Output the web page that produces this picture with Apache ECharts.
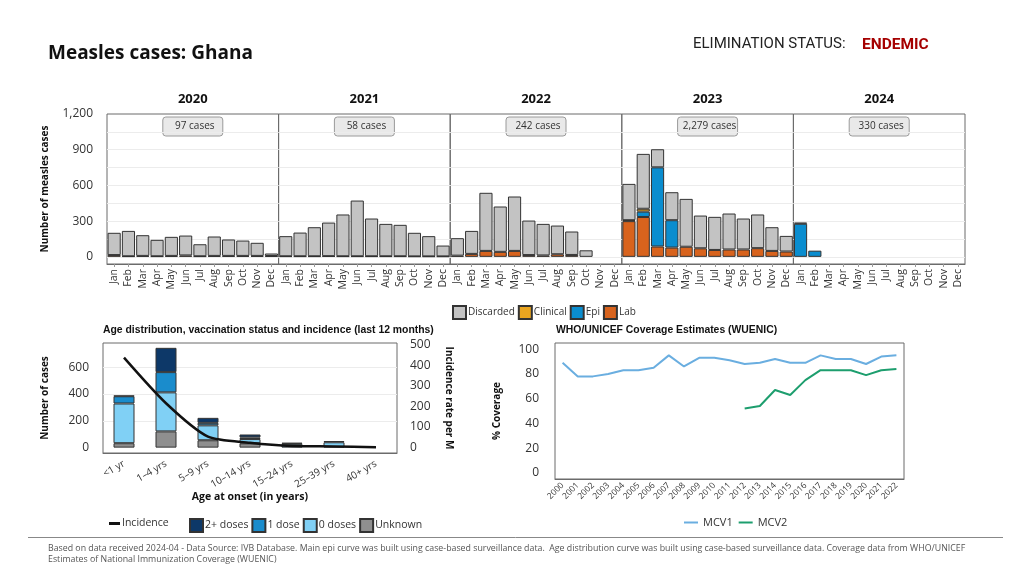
<!DOCTYPE html>
<html><head><meta charset="utf-8">
<script src="https://cdn.jsdelivr.net/npm/echarts@6/dist/echarts.min.js"></script>
<style>html,body{margin:0;padding:0;background:#fff}#c{width:1024px;height:576px}</style>
</head><body><div id="c"></div>
<script>
// ---------- DATA ----------
const months = ['Jan','Feb','Mar','Apr','May','Jun','Jul','Aug','Sep','Oct','Nov','Dec'];
const years = ['2020','2021','2022','2023','2024'];
const yearTotals = ['97 cases','58 cases','242 cases','2,279 cases','330 cases'];
// 60 months: Jan 2020 .. Dec 2024
const discarded = [
  187,213,174,138,160,167,101,163,138,129,110,21,
  169,199,244,282,351,468,317,272,264,198,170,91,
  147,193,488,381,457,290,265,241,197,55,0,0,
  305,461,152,235,402,275,278,302,260,283,199,131,
  10,0,0,0,0,0,0,0,0,0,0,0];
const clinical = [
  0,0,0,0,0,0,0,0,0,0,0,0,
  0,0,0,0,0,0,0,0,0,0,0,0,
  0,0,0,0,0,0,0,0,0,0,0,0,
  0,24,0,0,0,0,0,0,0,0,0,0,
  0,0,0,0,0,0,0,0,0,0,0,0];
const epi = [
  0,0,0,0,0,0,0,0,0,0,0,0,
  0,0,0,0,0,0,0,0,0,0,0,0,
  0,0,0,0,0,0,0,0,0,0,0,0,
  8,45,665,230,0,0,0,0,0,0,0,0,
  278,52,0,0,0,0,0,0,0,0,0,0];
const lab = [
  15,5,8,5,8,12,5,8,8,8,8,7,
  5,5,5,6,5,5,5,5,5,4,4,4,
  10,25,50,42,50,15,12,22,16,0,0,0,
  300,335,87,78,85,72,58,62,62,73,50,45,
  0,0,0,0,0,0,0,0,0,0,0,0];
const mainYTicks = [0,300,600,900,1200];
const mainGridLines = [0,150,300,450,600,750,900,1050];

const ageGroups = ['<1 yr','1–4 yrs','5–9 yrs','10–14 yrs','15–24 yrs','25–39 yrs','40+ yrs'];
const unknownDoses = [33,121,55,32,0,0,0];
const zeroDoses = [296,291,111,32,28,40,0];
const oneDose = [54,151,19,12,9,9,0];
const twoPlusDoses = [5,181,37,22,0,0,0];
const incidence = [436,215,53,24,8,6,2];
const ageYTicks = [0,200,400,600];
const incYTicks = [0,100,200,300,400,500];
const ageGridLines = [200,400,600];

const wYears = ['2000','2001','2002','2003','2004','2005','2006','2007','2008','2009','2010','2011','2012','2013','2014','2015','2016','2017','2018','2019','2020','2021','2022'];
const mcv1 = [89,78,78,80,83,83,85,95,86,93,93,91,88,89,92,89,89,95,92,92,88,94,95];
const mcv2 = [null,null,null,null,null,null,null,null,null,null,null,null,52,54,67,63,75,83,83,83,79,83,84];
const covYTicks = [0,20,40,60,80,100];

// ---------- CHART ----------
const FONT = "'Open Sans','Noto Sans',sans-serif";
const ARIAL = "'Liberation Sans',Arial,sans-serif";
const NARROW = "'Liberation Sans Narrow','Roboto',sans-serif";
const P_LEFT = 107, P_W = 171.6, P_TOP = 114, P_H = 150;
const FRAME = '#6b6b6b';

const grids = [], xAxes = [], yAxes = [], series = [];
const stackTypes = [
  ['Lab', lab, '#d8631d'],
  ['Epi', epi, '#0a8dcf'],
  ['Clinical', clinical, '#eaa51f'],
  ['Discarded', discarded, '#c3c3c3']
];
years.forEach((y, i) => {
  grids.push({left: P_LEFT + i * P_W, top: P_TOP, width: P_W, height: P_H, show: true, borderColor: FRAME, borderWidth: 1});
  xAxes.push({type: 'category', gridIndex: i, data: months,
    axisLine: {show: true, onZero: false, lineStyle: {color: FRAME}},
    axisTick: {show: true, alignWithLabel: true, length: 3, lineStyle: {color: '#999'}},
    axisLabel: {interval: 0, rotate: 90, fontSize: 10.5, color: '#333', fontFamily: FONT, margin: 5}});
  yAxes.push({type: 'value', gridIndex: i, min: -60, max: 1200, interval: 60, show: i === 0,
    axisLine: {show: false}, axisTick: {show: false}, splitLine: {show: false},
    axisLabel: {fontSize: 12, color: '#333', fontFamily: FONT, margin: 14,
      formatter: v => mainYTicks.includes(v) ? v.toLocaleString('en-US') : ''},
    name: i === 0 ? 'Number of measles cases' : '', nameLocation: 'middle', nameGap: 57,
    nameTextStyle: {fontWeight: 'bold', fontSize: 10, color: '#111', fontFamily: FONT}});
  stackTypes.forEach(([name, arr, color], k) => {
    const s = {type: 'bar', name, xAxisIndex: i, yAxisIndex: i, stack: 's' + y,
      data: arr.slice(i * 12, i * 12 + 12).map(v => v === 0 ? '-' : v),
      barCategoryGap: '8%',
      itemStyle: {color, borderColor: '#333', borderWidth: 1},
      emphasis: {disabled: true}};
    if (k === 3) {
      s.markLine = {silent: true, symbol: 'none', z: 1, label: {show: false}, animation: false,
        lineStyle: {color: '#ececec', type: 'solid', width: 1},
        data: mainGridLines.map(v => ({yAxis: v}))};
    }
    series.push(s);
  });
});

// Age chart (grid 5)
grids.push({left: 103, top: 343, width: 294, height: 110, show: true, borderColor: FRAME, borderWidth: 1});
xAxes.push({type: 'category', gridIndex: 5, data: ageGroups,
  axisLine: {onZero: false, lineStyle: {color: FRAME}},
  axisTick: {alignWithLabel: true, length: 4, lineStyle: {color: '#999'}},
  axisLabel: {interval: 0, rotate: 30, fontSize: 10, color: '#333', fontFamily: FONT, margin: 10},
  name: 'Age at onset (in years)', nameLocation: 'middle', nameGap: 36,
  nameTextStyle: {fontWeight: 'bold', fontSize: 10.5, color: '#111', fontFamily: FONT}});
yAxes.push({type: 'value', gridIndex: 5, min: -40, max: 780, interval: 20,
  axisLine: {show: false}, axisTick: {show: false}, splitLine: {show: false},
  axisLabel: {fontSize: 12, color: '#333', fontFamily: FONT, margin: 14,
    formatter: v => ageYTicks.includes(v) ? String(v) : ''},
  name: 'Number of cases', nameLocation: 'middle', nameGap: 53,
  nameTextStyle: {fontWeight: 'bold', fontSize: 10, color: '#111', fontFamily: FONT}});
yAxes.push({type: 'value', gridIndex: 5, position: 'right', min: -26, max: 507, interval: 2,
  axisLine: {show: false}, axisTick: {show: false}, splitLine: {show: false},
  axisLabel: {fontSize: 12, color: '#333', fontFamily: FONT, margin: 13,
    formatter: v => incYTicks.includes(v) ? String(v) : ''},
  name: 'Incidence rate per M', nameLocation: 'middle', nameGap: 47, nameRotate: -90,
  nameTextStyle: {fontWeight: 'bold', fontSize: 10, color: '#111', fontFamily: FONT}});

const ageStack = [
  ['Unknown', unknownDoses, '#8f8f8f'],
  ['0 doses', zeroDoses, '#80d0f5'],
  ['1 dose', oneDose, '#1a8ccc'],
  ['2+ doses', twoPlusDoses, '#0d3868']
];
ageStack.forEach(([name, arr, color], k) => {
  const s = {type: 'bar', name, xAxisIndex: 5, yAxisIndex: 5, stack: 'age',
    data: arr.map(v => v === 0 ? '-' : v), barWidth: '50%',
    itemStyle: {color, borderColor: '#333', borderWidth: 1}, emphasis: {disabled: true}};
  if (k === 0) {
    s.markLine = {silent: true, symbol: 'none', z: 1, label: {show: false}, animation: false,
      lineStyle: {color: '#ececec', type: 'solid', width: 1},
      data: ageGridLines.map(v => ({yAxis: v}))};
  }
  series.push(s);
});
series.push({type: 'line', name: 'Incidence', xAxisIndex: 5, yAxisIndex: 6, data: incidence,
  smooth: 0.25, symbol: 'none', lineStyle: {color: '#111', width: 2.5}, itemStyle: {color: '#111'}, z: 5});

// Coverage chart (grid 6)
grids.push({left: 555, top: 343, width: 349, height: 136, show: true, borderColor: FRAME, borderWidth: 1});
xAxes.push({type: 'category', gridIndex: 6, data: wYears,
  axisLine: {onZero: false, lineStyle: {color: FRAME}},
  axisTick: {alignWithLabel: true, length: 3, lineStyle: {color: '#999'}},
  axisLabel: {interval: 0, rotate: 45, fontSize: 8.5, color: '#333', fontFamily: FONT, margin: 5}});
yAxes.push({type: 'value', gridIndex: 6, min: -5, max: 105, interval: 5,
  axisLine: {show: false}, axisTick: {show: false}, splitLine: {show: false},
  axisLabel: {fontSize: 12, color: '#333', fontFamily: FONT, margin: 16,
    formatter: v => covYTicks.includes(v) ? String(v) : ''},
  name: '% Coverage', nameLocation: 'middle', nameGap: 53,
  nameTextStyle: {fontWeight: 'bold', fontSize: 10, color: '#111', fontFamily: FONT}});
series.push({type: 'line', name: 'MCV1', xAxisIndex: 6, yAxisIndex: 7, data: mcv1,
  symbol: 'none', lineStyle: {color: '#6aaee0', width: 2}, itemStyle: {color: '#6aaee0'}});
series.push({type: 'line', name: 'MCV2', xAxisIndex: 6, yAxisIndex: 7, data: mcv2,
  symbol: 'none', lineStyle: {color: '#1d9e6e', width: 2}, itemStyle: {color: '#1d9e6e'}});

// Graphic texts
const graphic = [];
graphic.push({type: 'text', left: 48, top: 44, style: {text: 'Measles cases: Ghana', font: "bold 19px " + FONT, fill: '#111'}});
graphic.push({type: 'text', left: 693, top: 37, style: {text: 'ELIMINATION STATUS:', font: "15px " + NARROW, fill: '#222'}});
graphic.push({type: 'text', left: 862, top: 37, style: {text: 'ENDEMIC', font: "bold 15.5px " + NARROW, fill: '#a50000'}});
years.forEach((y, i) => {
  const cx = P_LEFT + (i + 0.5) * P_W;
  graphic.push({type: 'text', x: cx, y: 99, style: {text: y, font: "bold 13px " + FONT, fill: '#111', align: 'center', verticalAlign: 'middle'}});
  graphic.push({type: 'rect', shape: {x: cx - 30, y: 117, width: 60, height: 19, r: 3}, style: {fill: '#e9e9e9', stroke: '#9a9a9a', lineWidth: 1}});
  graphic.push({type: 'text', x: cx + 2, y: 126.5, style: {text: yearTotals[i], font: "10px " + FONT, fill: '#333', align: 'center', verticalAlign: 'middle'}});
});
graphic.push({type: 'text', left: 103, top: 325, style: {text: 'Age distribution, vaccination status and incidence (last 12 months)', font: "bold 10.4px " + ARIAL, fill: '#111'}});
graphic.push({type: 'text', left: 556, top: 325, style: {text: 'WHO/UNICEF Coverage Estimates (WUENIC)', font: "bold 10.4px " + ARIAL, fill: '#111'}});
graphic.push({type: 'line', shape: {x1: 28, y1: 537.5, x2: 1003, y2: 537.5}, style: {stroke: '#888', lineWidth: 1}});
graphic.push({type: 'text', left: 48, top: 544, style: {text: 'Based on data received 2024-04 - Data Source: IVB Database. Main epi curve was built using case-based surveillance data.  Age distribution curve was built using case-based surveillance data. Coverage data from WHO/UNICEF', font: "8.8px " + FONT, fill: '#555'}});
graphic.push({type: 'text', left: 48, top: 555, style: {text: 'Estimates of National Immunization Coverage (WUENIC)', font: "8.8px " + FONT, fill: '#555'}});

const option = {
  animation: false,
  grid: grids, xAxis: xAxes, yAxis: yAxes, series,
  legend: [
    {data: ['Discarded', 'Clinical', 'Epi', 'Lab'], left: 447, top: 300, icon: 'rect', itemWidth: 13, itemHeight: 13, itemGap: 3,
      textStyle: {fontSize: 10, color: '#333', fontFamily: FONT, padding: [0, 0, 0, -3]}, selectedMode: false},
    {data: [{name: 'Incidence', icon: 'rect'}], left: 104, top: 513, itemWidth: 11, itemHeight: 3, itemGap: 3,
      textStyle: {fontSize: 10.5, color: '#333', fontFamily: FONT, padding: [0, 0, 0, -3]}, selectedMode: false},
    {data: ['2+ doses', '1 dose', '0 doses', 'Unknown'], left: 184, top: 513, icon: 'rect', itemWidth: 13, itemHeight: 13, itemGap: 3,
      textStyle: {fontSize: 10.5, color: '#333', fontFamily: FONT, padding: [0, 0, 0, -3]}, selectedMode: false},
    {data: [{name: 'MCV1', icon: 'rect'}, {name: 'MCV2', icon: 'rect'}], left: 679, top: 512, itemWidth: 14, itemHeight: 2, itemGap: 6,
      textStyle: {fontSize: 11, color: '#333', fontFamily: FONT}, selectedMode: false}
  ],
  graphic
};
const chart = echarts.init(document.getElementById('c'));
chart.setOption(option);
</script></body></html>
